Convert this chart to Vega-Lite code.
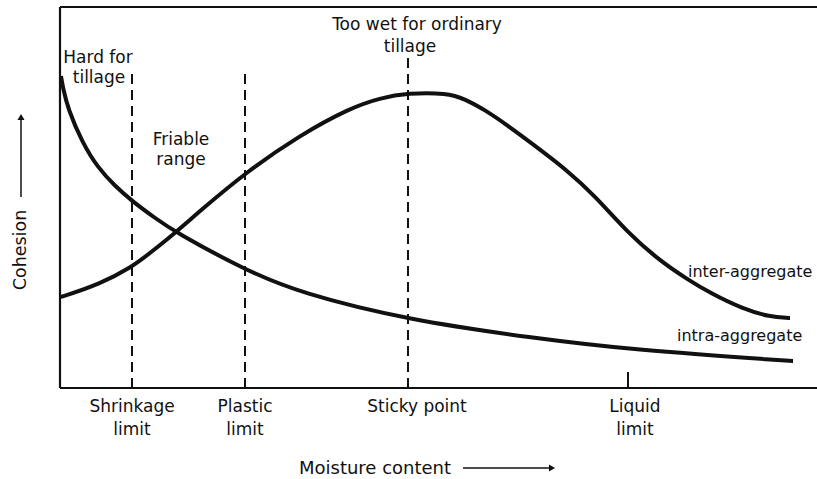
{
  "$schema": "https://vega.github.io/schema/vega-lite/v6.json",
  "width": 757,
  "height": 381,
  "autosize": {"type": "none"},
  "padding": {"left": 60, "top": 7, "right": 0, "bottom": 91},
  "background": "white",
  "config": {"view": {"stroke": null}, "text": {"font": "DejaVu Sans", "fontSize": 17, "color": "#111"}},
  "datasets": {
    "curves": [
      {"series": "intra-aggregate", "x": 1, "y": 312},
      {"series": "intra-aggregate", "x": 3, "y": 300},
      {"series": "intra-aggregate", "x": 8, "y": 279},
      {"series": "intra-aggregate", "x": 22, "y": 246},
      {"series": "intra-aggregate", "x": 38, "y": 220},
      {"series": "intra-aggregate", "x": 55, "y": 202},
      {"series": "intra-aggregate", "x": 72, "y": 187},
      {"series": "intra-aggregate", "x": 95, "y": 170},
      {"series": "intra-aggregate", "x": 115, "y": 156},
      {"series": "intra-aggregate", "x": 185, "y": 118},
      {"series": "intra-aggregate", "x": 240, "y": 95},
      {"series": "intra-aggregate", "x": 348, "y": 68},
      {"series": "intra-aggregate", "x": 473, "y": 50},
      {"series": "intra-aggregate", "x": 573, "y": 38},
      {"series": "intra-aggregate", "x": 732, "y": 27},
      {"series": "intra-aggregate", "x": 733, "y": 27},
      {"series": "inter-aggregate", "x": 0, "y": 91},
      {"series": "inter-aggregate", "x": 1, "y": 91},
      {"series": "inter-aggregate", "x": 40, "y": 104},
      {"series": "inter-aggregate", "x": 72, "y": 121},
      {"series": "inter-aggregate", "x": 90, "y": 135},
      {"series": "inter-aggregate", "x": 115, "y": 155},
      {"series": "inter-aggregate", "x": 140, "y": 177},
      {"series": "inter-aggregate", "x": 185, "y": 215},
      {"series": "inter-aggregate", "x": 240, "y": 253},
      {"series": "inter-aggregate", "x": 290, "y": 280},
      {"series": "inter-aggregate", "x": 320, "y": 290},
      {"series": "inter-aggregate", "x": 348, "y": 295},
      {"series": "inter-aggregate", "x": 387, "y": 295},
      {"series": "inter-aggregate", "x": 405, "y": 289},
      {"series": "inter-aggregate", "x": 425, "y": 278},
      {"series": "inter-aggregate", "x": 447, "y": 263},
      {"series": "inter-aggregate", "x": 470, "y": 246},
      {"series": "inter-aggregate", "x": 507, "y": 218},
      {"series": "inter-aggregate", "x": 535, "y": 192},
      {"series": "inter-aggregate", "x": 567, "y": 156},
      {"series": "inter-aggregate", "x": 600, "y": 127},
      {"series": "inter-aggregate", "x": 627, "y": 109},
      {"series": "inter-aggregate", "x": 650, "y": 95},
      {"series": "inter-aggregate", "x": 683, "y": 79},
      {"series": "inter-aggregate", "x": 710, "y": 71},
      {"series": "inter-aggregate", "x": 729, "y": 70},
      {"series": "inter-aggregate", "x": 730, "y": 70}
    ],
    "frame": [
      {"x": 0, "x2": 0, "y": 0, "y2": 381},
      {"x": 0, "x2": 757, "y": 381, "y2": 381},
      {"x": 0, "x2": 757, "y": 0, "y2": 0}
    ],
    "vlines": [
      {"name": "Shrinkage limit", "x": 72, "bottom": 0, "top": 320},
      {"name": "Plastic limit", "x": 185, "bottom": 0, "top": 316},
      {"name": "Sticky point", "x": 348, "bottom": 0, "top": 330}
    ],
    "ticks": [
      {"name": "Liquid limit", "x": 568, "bottom": 0, "top": 16}
    ],
    "labels": [
      {"text": "Hard for", "x": 38, "y": 330},
      {"text": "tillage", "x": 39, "y": 310},
      {"text": "Friable", "x": 121, "y": 248},
      {"text": "range", "x": 121, "y": 228},
      {"text": "Too wet for ordinary", "x": 357, "y": 363},
      {"text": "tillage", "x": 350, "y": 341},
      {"text": "Shrinkage", "x": 72, "y": -19},
      {"text": "limit", "x": 72, "y": -42},
      {"text": "Plastic", "x": 185, "y": -19},
      {"text": "limit", "x": 185, "y": -42},
      {"text": "Sticky point", "x": 357, "y": -19},
      {"text": "Liquid", "x": 575, "y": -19},
      {"text": "limit", "x": 575, "y": -42}
    ],
    "serieslabels": [
      {"text": "inter-aggregate", "x": 628, "y": 116},
      {"text": "intra-aggregate", "x": 617, "y": 52}
    ],
    "xlabel": [
      {"text": "Moisture content", "x": 315, "y": -81}
    ],
    "ylabel": [
      {"text": "Cohesion", "x": -39, "y": 138}
    ],
    "arrows": [
      {"axis": "y", "x": -39, "x2": -39, "y": 191, "y2": 272},
      {"axis": "x", "x": 403, "x2": 492, "y": -80, "y2": -80}
    ],
    "headup": [{"x": -39, "y": 271}],
    "headright": [{"x": 492, "y": -80}]
  },
  "layer": [
    {
      "data": {"name": "frame"},
      "mark": {"type": "rule", "color": "#111", "strokeWidth": 2.2, "clip": false},
      "encoding": {
        "x": {"field": "x", "type": "quantitative", "scale": {"domain": [0, 757], "nice": false, "zero": false}, "axis": null},
        "x2": {"field": "x2"},
        "y": {"field": "y", "type": "quantitative", "scale": {"domain": [0, 381], "nice": false, "zero": false}, "axis": null},
        "y2": {"field": "y2"}
      }
    },
    {
      "data": {"name": "vlines"},
      "mark": {"type": "rule", "color": "#111", "strokeWidth": 2, "strokeDash": [10, 6]},
      "encoding": {
        "x": {"field": "x", "type": "quantitative"},
        "y": {"field": "bottom", "type": "quantitative"},
        "y2": {"field": "top"}
      }
    },
    {
      "data": {"name": "ticks"},
      "mark": {"type": "rule", "color": "#111", "strokeWidth": 2},
      "encoding": {
        "x": {"field": "x", "type": "quantitative"},
        "y": {"field": "bottom", "type": "quantitative"},
        "y2": {"field": "top"}
      }
    },
    {
      "data": {"name": "curves"},
      "mark": {"type": "line", "color": "#111", "strokeWidth": 4, "interpolate": "basis", "strokeCap": "butt"},
      "encoding": {
        "x": {"field": "x", "type": "quantitative"},
        "y": {"field": "y", "type": "quantitative"},
        "detail": {"field": "series", "type": "nominal"}
      }
    },
    {
      "data": {"name": "arrows"},
      "mark": {"type": "rule", "color": "#111", "strokeWidth": 1.5, "clip": false},
      "encoding": {
        "x": {"field": "x", "type": "quantitative"},
        "x2": {"field": "x2"},
        "y": {"field": "y", "type": "quantitative"},
        "y2": {"field": "y2"}
      }
    },
    {
      "data": {"name": "headup"},
      "mark": {"type": "point", "shape": "triangle-up", "filled": true, "color": "#111", "size": 50, "opacity": 1, "clip": false},
      "encoding": {
        "x": {"field": "x", "type": "quantitative"},
        "y": {"field": "y", "type": "quantitative"}
      }
    },
    {
      "data": {"name": "headright"},
      "mark": {"type": "point", "shape": "triangle-right", "filled": true, "color": "#111", "size": 50, "opacity": 1, "clip": false},
      "encoding": {
        "x": {"field": "x", "type": "quantitative"},
        "y": {"field": "y", "type": "quantitative"}
      }
    },
    {
      "data": {"name": "labels"},
      "mark": {"type": "text", "baseline": "middle", "align": "center", "clip": false},
      "encoding": {
        "x": {"field": "x", "type": "quantitative"},
        "y": {"field": "y", "type": "quantitative"},
        "text": {"field": "text", "type": "nominal"}
      }
    },
    {
      "data": {"name": "serieslabels"},
      "mark": {"type": "text", "baseline": "middle", "align": "left", "fontSize": 16, "clip": false},
      "encoding": {
        "x": {"field": "x", "type": "quantitative"},
        "y": {"field": "y", "type": "quantitative"},
        "text": {"field": "text", "type": "nominal"}
      }
    },
    {
      "data": {"name": "xlabel"},
      "mark": {"type": "text", "baseline": "middle", "align": "center", "fontSize": 18, "clip": false},
      "encoding": {
        "x": {"field": "x", "type": "quantitative"},
        "y": {"field": "y", "type": "quantitative"},
        "text": {"field": "text", "type": "nominal"}
      }
    },
    {
      "data": {"name": "ylabel"},
      "mark": {"type": "text", "baseline": "middle", "align": "center", "angle": 270, "fontSize": 17.5, "clip": false},
      "encoding": {
        "x": {"field": "x", "type": "quantitative"},
        "y": {"field": "y", "type": "quantitative"},
        "text": {"field": "text", "type": "nominal"}
      }
    }
  ]
}
